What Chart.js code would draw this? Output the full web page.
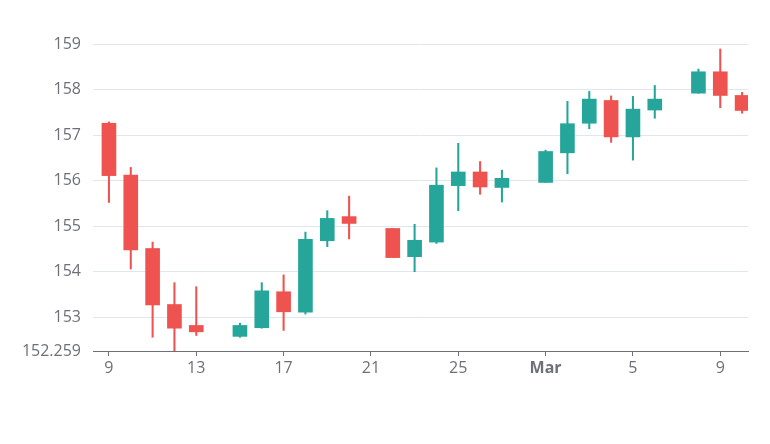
<!DOCTYPE html>
<html>
<head>
<meta charset="utf-8">
<script src="https://cdn.jsdelivr.net/npm/chart.js@4"></script>
<style>
  html, body { margin: 0; padding: 0; background: #fff; }
  #wrap { width: 770px; height: 444px; }
</style>
</head>
<body>
<div id="wrap"><canvas id="chart" width="770" height="444"></canvas></div>
<script>
// day number: Feb 9 = 9 ... Feb 28 = 28, Mar 1 = 29, Mar 10 = 38 (2021)
const days  = [9, 10, 11, 12, 13, 15, 16, 17, 18, 19, 20, 22, 23, 24, 25, 26, 27, 29, 30, 31, 32, 33, 34, 36, 37, 38];
const open  = [157.26, 156.12, 154.51, 153.28, 152.82, 152.58, 152.77, 153.56, 153.11, 154.68, 155.21, 154.95, 154.33, 154.65, 155.89, 156.19, 155.85, 155.96, 156.61, 157.26, 157.76, 156.96, 157.55, 157.92, 158.39, 157.87];
const close = [156.11, 154.48, 153.27, 152.76, 152.68, 152.82, 153.58, 153.12, 154.71, 155.17, 155.06, 154.31, 154.69, 155.90, 156.19, 155.86, 156.05, 156.64, 157.25, 157.79, 156.96, 157.57, 157.79, 158.39, 157.87, 157.54];
const high  = [157.29, 156.29, 154.65, 153.76, 153.67, 152.87, 153.76, 153.93, 154.87, 155.34, 155.66, 154.95, 155.04, 156.28, 156.82, 156.42, 156.23, 156.67, 157.74, 157.96, 157.86, 157.85, 158.09, 158.45, 158.89, 157.94];
const low   = [155.52, 154.06, 152.56, 152.259, 152.60, 152.56, 152.76, 152.71, 153.07, 154.55, 154.72, 154.31, 154.00, 154.62, 155.34, 155.70, 155.53, 155.96, 156.15, 157.14, 156.84, 156.45, 157.37, 157.92, 157.60, 157.48];

const xTickValues = [9, 13, 17, 21, 25, 29, 33, 37];
const xTickLabels = ['9', '13', '17', '21', '25', 'Mar', '5', '9'];
const yTickValues = [152.259, 153, 154, 155, 156, 157, 158, 159];

const UP = '#26a69a';
const DOWN = '#ef5350';
const TEXT = '#6e7079';
const FONT = "'Open Sans', 'Noto Sans', sans-serif";

const colors = days.map((d, i) => close[i] >= open[i] ? UP : DOWN);

const bodies = days.map((d, i) => ({ x: d, y: [open[i], close[i]] }));
const wicks = days.map((d, i) => ({ x: d, y: [low[i], high[i]] }));

new Chart(document.getElementById('chart'), {
    type: 'bar',
    data: {
        datasets: [
            {
                label: 'body',
                data: bodies,
                backgroundColor: colors,
                borderColor: colors,
                borderWidth: 0,
                borderSkipped: false,
                barThickness: 14,
                grouped: false
            },
            {
                label: 'wick',
                data: wicks,
                backgroundColor: colors,
                borderWidth: 0,
                barThickness: 1.4,
                grouped: false
            }
        ]
    },
    options: {
        responsive: false,
        animation: false,
        layout: { padding: { top: 44, right: 22, bottom: 33, left: 0 } },
        plugins: {
            legend: { display: false },
            tooltip: { enabled: false }
        },
        scales: {
            x: {
                type: 'linear',
                min: 8.27,
                max: 38.27,
                offset: false,
                afterFit: (s) => { s.height = 60; },
                afterBuildTicks: (s) => { s.ticks = xTickValues.map(v => ({ value: v })); },
                grid: { offset: false, drawOnChartArea: false, drawTicks: true, tickLength: 5, color: TEXT },
                border: { display: true, color: TEXT, width: 1 },
                ticks: {
                    autoSkip: false,
                    maxRotation: 0,
                    padding: 3,
                    color: TEXT,
                    font: (ctx) => ({ family: FONT, size: 16, weight: (ctx.tick && ctx.tick.value === 29) ? 'bold' : 'normal' }),
                    callback: (v) => xTickLabels[xTickValues.indexOf(v)]
                }
            },
            y: {
                type: 'linear',
                min: 152.259,
                max: 159,
                afterFit: (s) => { s.width = 93; },
                afterBuildTicks: (s) => { s.ticks = yTickValues.map(v => ({ value: v })); },
                grid: {
                    drawTicks: false,
                    color: (ctx) => ctx.tick && ctx.tick.value === yTickValues[0] ? 'rgba(0,0,0,0)' : '#e0e6f1'
                },
                border: { display: false },
                ticks: {
                    padding: 12,
                    color: TEXT,
                    font: { family: FONT, size: 16 },
                    callback: (v) => String(v)
                }
            }
        }
    }
});
</script>
</body>
</html>
